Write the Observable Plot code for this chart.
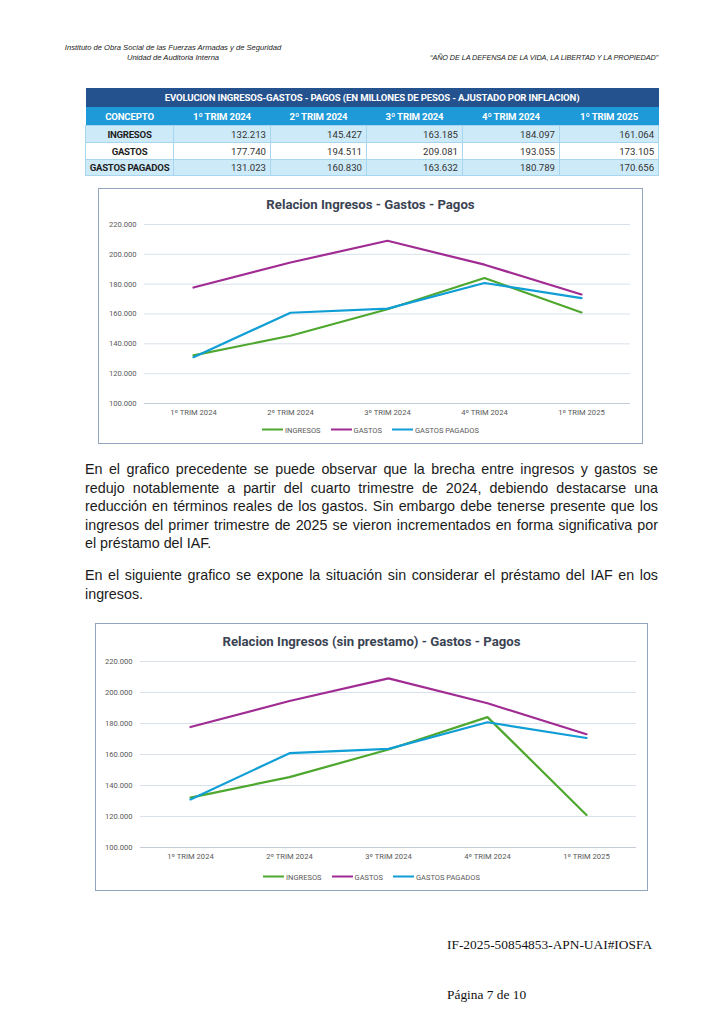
<!DOCTYPE html>
<html>
<head>
<meta charset="utf-8">
<script src="https://cdn.jsdelivr.net/npm/d3@7"></script>
<script src="https://cdn.jsdelivr.net/npm/@observablehq/plot@0.6"></script>
<style>
  html, body { margin: 0; padding: 0; background: #fff; }
  #page { position: relative; width: 724px; height: 1024px; overflow: hidden; background: #fff; }
  .abs { position: absolute; }
  .hdr { font-family: "Liberation Sans", Arial, sans-serif; font-style: italic; font-size: 7.6px; color: #222; white-space: nowrap; }
  table.t { border-collapse: collapse; font-family: Roboto, "Liberation Sans", sans-serif; font-size: 9.6px; table-layout: fixed; }
  table.t td { padding: 0 4px; white-space: nowrap; overflow: hidden; }
  .para { font-family: "Liberation Sans", Arial, sans-serif; font-size: 14.3px; color: #1a1a1a; width: 573px; }
  .para div { height: 18.5px; line-height: 18.5px; text-align: justify; text-align-last: justify; white-space: nowrap; }
  .para div.last { text-align-last: left; }
  .box { position: absolute; box-sizing: border-box; border: 1.5px solid #93a5be; background: #fff; }
  .ctitle { position: absolute; left: 0; right: 0; text-align: center; font-family: Roboto, sans-serif; font-weight: bold; font-size: 13.2px; color: #3a4352; transform: translateY(-50%); }
  .legend { position: absolute; left: 0; right: 0; display: flex; justify-content: center; align-items: center; font-family: Roboto, sans-serif; font-size: 7.5px; color: #595959; transform: translateY(-50%); }
  .legend .it { display: flex; align-items: center; margin: 0 5px; }
  .legend .sw { width: 21px; height: 2.4px; margin-right: 2px; }
  .foot { font-family: "Liberation Serif", "Times New Roman", serif; font-size: 13.4px; color: #111; white-space: nowrap; }
</style>
</head>
<body>
<div id="page"></div>
<script>
// ---------- DATA ----------
const trims = ["1º TRIM 2024", "2º TRIM 2024", "3º TRIM 2024", "4º TRIM 2024", "1º TRIM 2025"];
const seriesNames = ["INGRESOS", "GASTOS", "GASTOS PAGADOS"];
const ingresos = [132213, 145427, 163185, 184097, 161064];
const gastos = [177740, 194511, 209081, 193055, 173105];
const gastosPagados = [131023, 160830, 163632, 180789, 170656];
const ingresosSinPrestamo = [132213, 145427, 163185, 184097, 121000];
const yTicks = [100000, 120000, 140000, 160000, 180000, 200000, 220000];
const seriesColors = ["#4ea72e", "#a02b93", "#0f9ed5"];

const tableTitle = "EVOLUCION INGRESOS-GASTOS - PAGOS  (EN MILLONES DE PESOS - AJUSTADO POR INFLACION)";
const chart1Title = "Relacion Ingresos - Gastos - Pagos";
const chart2Title = "Relacion Ingresos (sin prestamo) - Gastos - Pagos";
const headerLeft1 = "Instituto de Obra Social de las Fuerzas Armadas y de Seguridad";
const headerLeft2 = "Unidad de Auditoria Interna";
const headerRight = "“AÑO DE LA DEFENSA DE LA VIDA, LA LIBERTAD Y LA PROPIEDAD”";
const para1Lines = [
  "En el grafico precedente se puede observar que la brecha entre ingresos y gastos se",
  "redujo notablemente a partir del cuarto trimestre de 2024, debiendo destacarse una",
  "reducción en términos reales de los gastos. Sin embargo debe tenerse presente que los",
  "ingresos del primer trimestre de 2025 se vieron incrementados en forma significativa por",
  "el préstamo del IAF."
];
const para2Lines = [
  "En el siguiente grafico se expone la situación sin considerar el préstamo del IAF en los",
  "ingresos."
];
const footer1 = "IF-2025-50854853-APN-UAI#IOSFA";
const footer2 = "Página 7 de 10";

// ---------- HELPERS ----------
const loc = d3.formatLocale({decimal: ",", thousands: ".", grouping: [3], currency: ["$", ""]});
const fmt = loc.format(",d");
const page = document.getElementById("page");

function el(tag, cls, style, text) {
  const e = document.createElement(tag);
  if (cls) e.className = cls;
  if (style) Object.assign(e.style, style);
  if (text != null) e.textContent = text;
  return e;
}

// ---------- HEADER ----------
page.appendChild(el("div", "abs hdr", {left: "55px", width: "236px", top: "43px", textAlign: "center"}, headerLeft1));
page.appendChild(el("div", "abs hdr", {left: "55px", width: "236px", top: "53px", textAlign: "center"}, headerLeft2));
page.appendChild(el("div", "abs hdr", {right: "66px", top: "53px", fontSize: "7.3px", letterSpacing: "-0.1px"}, headerRight));

// ---------- TABLE ----------
const tbl = el("table", "abs t", {left: "85px", top: "88px", width: "573px"});
const colW = [88, 97, 96, 96, 97, 99];
const cg = document.createElement("colgroup");
colW.forEach(w => { const c = document.createElement("col"); c.style.width = w + "px"; cg.appendChild(c); });
tbl.appendChild(cg);
// title row
let tr = document.createElement("tr");
let td = el("td", null, {background: "#24528e", color: "#fff", fontWeight: "bold", textAlign: "center", height: "19px", fontSize: "9.6px", letterSpacing: "-0.15px"}, tableTitle);
td.colSpan = 6; tr.appendChild(td); tbl.appendChild(tr);
// header row
tr = document.createElement("tr");
["CONCEPTO", ...trims].forEach(h => {
  tr.appendChild(el("td", null, {background: "#1f9ad8", color: "#fff", fontWeight: "bold", textAlign: "center", height: "18px", letterSpacing: "-0.15px"}, h));
});
tbl.appendChild(tr);
const rows = [["INGRESOS", ingresos, "#cdeaf8"], ["GASTOS", gastos, "#ffffff"], ["GASTOS PAGADOS", gastosPagados, "#cdeaf8"]];
rows.forEach(([name, vals, bg], i) => {
  tr = document.createElement("tr");
  const h = i === 2 ? "15px" : "16px";
  tr.appendChild(el("td", null, {background: bg, fontWeight: "bold", textAlign: "center", color: "#1e1e1e", height: h, border: "1px solid #a8d5ef", padding: "0 1px", letterSpacing: "-0.25px"}, name));
  vals.forEach(v => tr.appendChild(el("td", null, {background: bg, textAlign: "right", color: "#333", height: h, border: "1px solid #a8d5ef"}, fmt(v))));
  tbl.appendChild(tr);
});
page.appendChild(tbl);

// ---------- CHART ----------
function makeChart(ingVals, cfg) {
  const data = [];
  const all = [ingVals, gastos, gastosPagados];
  seriesNames.forEach((s, si) => trims.forEach((t, ti) => data.push({serie: s, trim: t, value: all[si][ti]})));
  const box = el("div", "box", {left: cfg.left + "px", top: cfg.top + "px", width: cfg.w + "px", height: cfg.h + "px"});
  box.appendChild(el("div", "ctitle", {top: cfg.titleY + "px"}, cfg.title));
  const plot = Plot.plot({
    width: cfg.w - 3,
    height: cfg.ph,
    marginTop: 12,
    marginBottom: 25,
    marginLeft: cfg.ml,
    marginRight: cfg.mr,
    style: {fontFamily: "Roboto, sans-serif", fontSize: "7.6px", color: "#595959", background: "transparent", overflow: "visible"},
    x: {type: "point", domain: trims, padding: 0.5, label: null, tickSize: 0, tickPadding: 6},
    y: {domain: [100000, 220000], ticks: yTicks, tickFormat: fmt, label: null, tickSize: 0, tickPadding: 8},
    color: {domain: seriesNames, range: seriesColors},
    marks: [
      Plot.gridY(yTicks, {stroke: "#d8e1eb", strokeOpacity: 1, strokeWidth: 1}),
      Plot.ruleY([100000], {stroke: "#c3ccd7", strokeWidth: 1}),
      Plot.lineY(data, {x: "trim", y: "value", z: "serie", stroke: "serie", strokeWidth: 2.2, strokeLinejoin: "miter"})
    ]
  });
  plot.style.position = "absolute";
  plot.style.left = "0px";
  plot.style.top = cfg.svgTop + "px";
  box.appendChild(plot);
  const leg = el("div", "legend", {top: cfg.legY + "px"});
  seriesNames.forEach((s, i) => {
    const it = el("div", "it");
    it.appendChild(el("div", "sw", {background: seriesColors[i]}));
    it.appendChild(el("span", null, null, s));
    leg.appendChild(it);
  });
  box.appendChild(leg);
  page.appendChild(box);
}

makeChart(ingresos, {left: 98, top: 188, w: 545, h: 256, title: chart1Title, titleY: 14.5, svgTop: 22.5, ph: 216, ml: 45, mr: 11, legY: 240.5});

// ---------- PARAGRAPHS ----------
function para(lines, top) {
  const p = el("div", "abs para", {left: "85px", top: top + "px"});
  lines.forEach((l, i) => p.appendChild(el("div", i === lines.length - 1 ? "last" : null, null, l)));
  page.appendChild(p);
}
para(para1Lines, 460);
para(para2Lines, 566);

makeChart(ingresosSinPrestamo, {left: 95, top: 623, w: 553, h: 268, title: chart2Title, titleY: 16.5, svgTop: 24.5, ph: 223, ml: 44, mr: 10, legY: 252.5});

// ---------- FOOTER ----------
page.appendChild(el("div", "abs foot", {left: "447px", top: "937px"}, footer1));
page.appendChild(el("div", "abs foot", {left: "447px", top: "987px"}, footer2));
</script>
</body>
</html>
